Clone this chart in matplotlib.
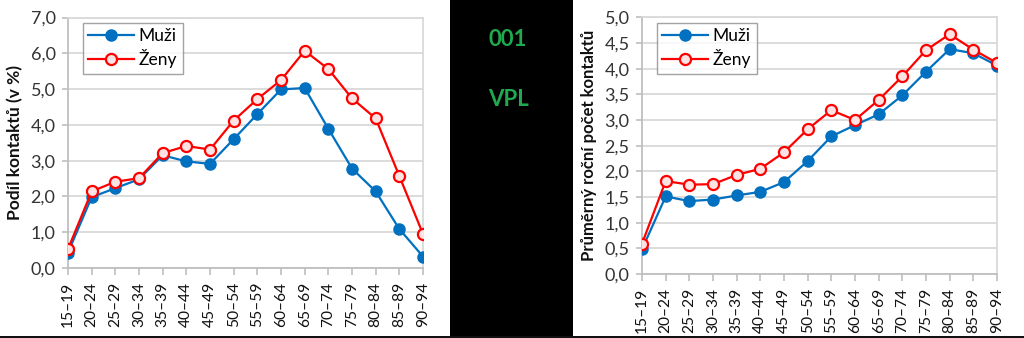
import matplotlib
matplotlib.use("Agg")
import matplotlib.pyplot as plt
from matplotlib.ticker import FuncFormatter, MultipleLocator
from matplotlib.patches import Rectangle

categories = ["15–19", "20–24", "25–29", "30–34", "35–39", "40–44", "45–49", "50–54",
              "55–59", "60–64", "65–69", "70–74", "75–79", "80–84", "85–89", "90–94"]

share_men = [0.43, 1.98, 2.23, 2.48, 3.15, 2.98, 2.91, 3.60, 4.30, 4.99, 5.03, 3.89, 2.78, 2.14, 1.09, 0.32]
share_women = [0.53, 2.14, 2.41, 2.51, 3.21, 3.41, 3.31, 4.12, 4.72, 5.25, 6.07, 5.56, 4.74, 4.18, 2.57, 0.95]

avg_men = [0.48, 1.51, 1.42, 1.45, 1.53, 1.60, 1.79, 2.20, 2.68, 2.90, 3.11, 3.48, 3.94, 4.38, 4.30, 4.06]
avg_women = [0.59, 1.81, 1.74, 1.75, 1.93, 2.05, 2.37, 2.82, 3.19, 3.00, 3.39, 3.85, 4.36, 4.67, 4.37, 4.11]

series_names = ["Muži", "Ženy"]
ylabel_left = "Podíl kontaktů (v %)"
ylabel_right = "Průměrný roční počet kontaktů"
mid_texts = ["001", "VPL"]

plt.rcParams['font.family'] = ['Lato', 'DejaVu Sans']

W, H = 1024, 338
fig = plt.figure(figsize=(W / 100, H / 100), dpi=100)
fig.patch.set_facecolor("white")

BLUE = "#0070c0"
RED = "#ff0000"
PINK = "#fbe3e3"
GRID = "#d9d9d9"
AXC = "#bfbfbf"


def px_rect(x0, y0, x1, y1):
    return [x0 / W, (H - y1) / H, (x1 - x0) / W, (y1 - y0) / H]


def make_panel(rect, men, women, ymax, step, ylabel, ylsize):
    ax = fig.add_axes(rect)
    x = list(range(len(categories)))
    ax.plot(x, men, color=BLUE, lw=1.6, marker="o", ms=8,
            mfc=BLUE, mec=BLUE, label=series_names[0], zorder=3)
    ax.plot(x, women, color=RED, lw=1.6, marker="o", ms=8,
            mfc=PINK, mec=RED, mew=1.6, label=series_names[1], zorder=4)
    ax.set_xlim(0, len(categories) - 1)
    ax.set_ylim(0, ymax)
    ax.yaxis.set_major_locator(MultipleLocator(step))
    ax.yaxis.set_major_formatter(FuncFormatter(lambda v, p: f"{v:.1f}".replace(".", ",")))
    ax.set_xticks(x)
    ax.set_xticklabels(categories, rotation=90, fontsize=11.2)
    ax.grid(axis="y", color=GRID, lw=1.3, zorder=0)
    ax.set_axisbelow(True)
    for s in ["top", "right"]:
        ax.spines[s].set_color(GRID)
        ax.spines[s].set_linewidth(1.3)
    for s in ["left", "bottom"]:
        ax.spines[s].set_color(AXC)
        ax.spines[s].set_linewidth(1.3)
    ax.tick_params(axis="y", length=4, color=AXC, width=1.2, labelsize=13,
                   pad=5, labelcolor="#333333")
    ax.tick_params(axis="x", length=5, color=AXC, width=1.2, pad=5,
                   labelcolor="#111111")
    ax.set_ylabel(ylabel, fontsize=ylsize, fontweight="bold", color="#111111", labelpad=5)
    leg = ax.legend(loc="upper left", bbox_to_anchor=(0.043, 0.978), borderaxespad=0,
                    fancybox=False, frameon=True, fontsize=12.5, handlelength=2.6,
                    handletextpad=0.3, borderpad=0.3, labelspacing=0.3)
    leg.get_frame().set_edgecolor("#8c8c8c")
    leg.get_frame().set_linewidth(1.0)
    return ax


ax1 = make_panel(px_rect(68, 17.5, 423, 268), share_men, share_women, 7.0, 1.0, ylabel_left, 12.5)
ax2 = make_panel(px_rect(642, 17.3, 997, 274), avg_men, avg_women, 5.0, 0.5, ylabel_right, 12)

# black middle panel and bottom border
fig.patches.append(Rectangle((450 / W, 0), (573 - 450) / W, 1, transform=fig.transFigure,
                             facecolor="black", edgecolor="none", zorder=0))
fig.patches.append(Rectangle((0, 0), 1, 2.5 / H, transform=fig.transFigure,
                             facecolor="#111111", edgecolor="none", zorder=0))

fig.text(508 / W, 1 - 40 / H, mid_texts[0], color="#1faa4f", fontsize=16,
         fontweight="bold", ha="center", va="center")
fig.text(508 / W, 1 - 100 / H, mid_texts[1], color="#1faa4f", fontsize=16,
         fontweight="bold", ha="center", va="center")

fig.savefig("out.png", dpi=100, facecolor="white")
